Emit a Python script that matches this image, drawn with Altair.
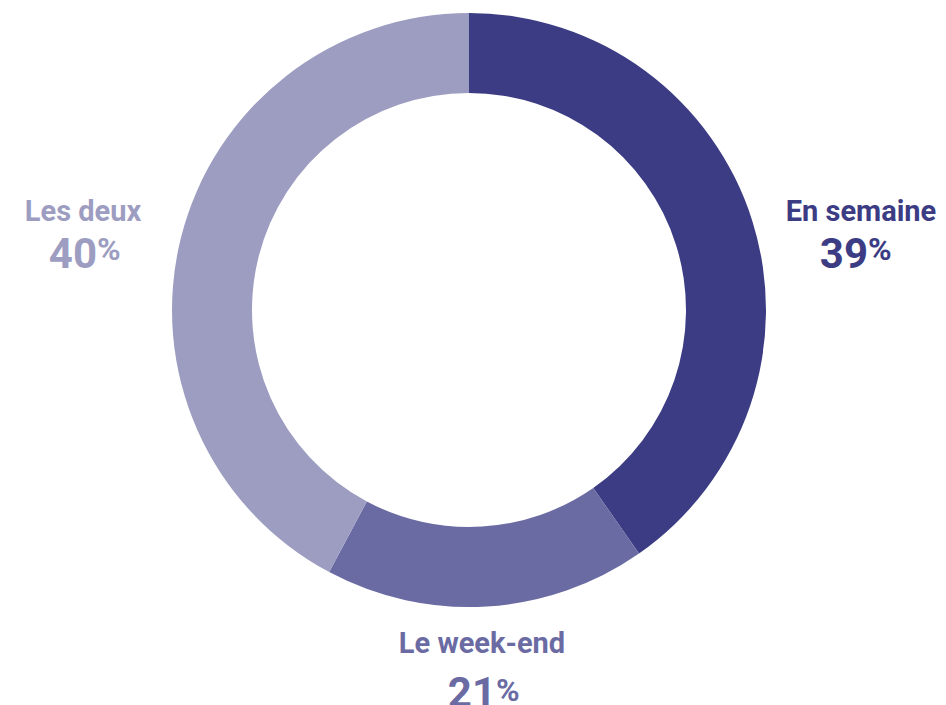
import altair as alt
import pandas as pd

# Data
categories = ["En semaine", "Le week-end", "Les deux"]
label_pct = ["39", "21", "40"]          # printed percentages
slice_share = [40.3, 17.5, 42.2]        # drawn arc proportions (as measured)
colors = ["#3c3c84", "#6b6ba3", "#9d9dc2"]

df = pd.DataFrame({
    "cat": categories,
    "share": slice_share,
    "pct": label_pct,
    "order": list(range(len(categories))),
})

# layout (pixel positions of the labels, plot coordinates)
lab_x = [853, 474, 75]
lab_y = [213, 645, 213]
num_x = [858, 486, 87]
num_y = [260, 699, 260]
pc_y = [227, 668, 227]

df["lx"] = lab_x
df["ly"] = lab_y
df["nx"] = num_x
df["ny"] = num_y
df["px"] = [x + 2 for x in num_x]
df["py"] = pc_y
df["pcs"] = ["%"] * 3

color = alt.Color("cat:N", scale=alt.Scale(domain=categories, range=colors), legend=None)

base = alt.Chart(df)

arcs = base.mark_arc(outerRadius=297, innerRadius=217, strokeWidth=0).encode(
    theta=alt.Theta("share:Q", stack=True),
    order=alt.Order("order:Q"),
    color=color,
    x=alt.value(461),
    y=alt.value(302),
)

FONT = "Roboto"

labels = base.mark_text(font=FONT, fontWeight="bold", fontSize=29, align="center",
                        baseline="alphabetic").encode(
    x=alt.X("lx:Q", scale=None), y=alt.Y("ly:Q", scale=None), text="cat:N", color=color
)
nums = base.mark_text(font=FONT, fontWeight="bold", fontSize=42, align="right",
                      baseline="alphabetic", dx=2).encode(
    x=alt.X("nx:Q", scale=None), y=alt.Y("ny:Q", scale=None), text="pct:N", color=color
)
pcs = base.mark_text(font=FONT, fontWeight="bold", fontSize=32, align="left",
                     baseline="top").encode(
    x=alt.X("px:Q", scale=None), y=alt.Y("py:Q", scale=None), text="pcs:N", color=color
)

chart = alt.layer(arcs, labels, nums, pcs).properties(
    width=930, height=697, padding=0, background="white",
    autosize=alt.AutoSizeParams(type="none")
).configure_view(strokeWidth=0, stroke="transparent")

chart.save("out.html", embed_options={"renderer": "svg", "actions": False})
